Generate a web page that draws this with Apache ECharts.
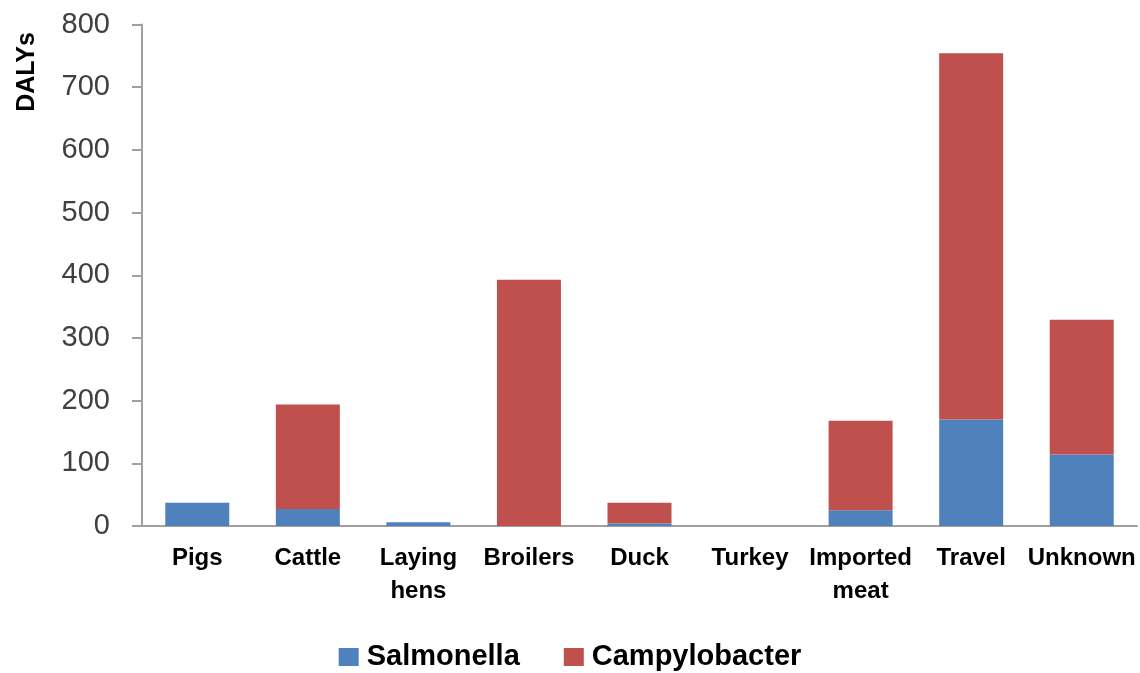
<!DOCTYPE html>
<html>
<head>
<meta charset="utf-8">
<script src="https://cdn.jsdelivr.net/npm/echarts@6/dist/echarts.min.js"></script>
<style>
  html, body { margin: 0; padding: 0; background: #fff; }
  #chart { width: 1140px; height: 673px; }
</style>
</head>
<body>
<div id="chart"></div>
<script>
// Sources of human illness burden (DALYs), split by pathogen
const categories = ['Pigs', 'Cattle', 'Laying\nhens', 'Broilers', 'Duck', 'Turkey', 'Imported\nmeat', 'Travel', 'Unknown'];
const salmonella = [37, 27, 6, 0, 4, 0, 25, 170, 114];
const campylobacter = [0, 167, 0, 393, 33, 0, 143, 584, 215];
const yTicks = { min: 0, max: 800, interval: 100 };

const chart = echarts.init(document.getElementById('chart'), null, { renderer: 'canvas' });

const narrow = '"Liberation Sans Narrow", "Liberation Sans", Arial, sans-serif';

chart.setOption({
  animation: false,
  backgroundColor: '#ffffff',
  grid: { left: 142, right: 3, top: 24.5, bottom: 147, containLabel: false },
  legend: {
    data: ['Salmonella', 'Campylobacter'],
    left: 'center',
    top: 640,
    padding: 0,
    itemWidth: 20,
    itemHeight: 18,
    itemGap: 44,
    icon: 'rect',
    textStyle: { fontFamily: narrow, fontWeight: 'bold', fontSize: 29, lineHeight: 34, color: '#000', padding: [0, 0, 0, 3] }
  },
  graphic: [{
    type: 'text',
    x: 27,
    y: 72,
    rotation: Math.PI / 2,
    style: {
      text: 'DALYs',
      font: 'bold 25px "Liberation Sans", Arial, sans-serif',
      fill: '#000',
      align: 'center',
      verticalAlign: 'middle'
    }
  }],
  xAxis: {
    type: 'category',
    data: categories,
    axisLine: { lineStyle: { color: '#a0a0a0', width: 2 } },
    axisTick: { show: false },
    axisLabel: {
      interval: 0,
      margin: 16,
      fontFamily: narrow,
      fontWeight: 'bold',
      fontSize: 24,
      lineHeight: 33,
      color: '#000'
    }
  },
  yAxis: {
    type: 'value',
    min: yTicks.min,
    max: yTicks.max,
    interval: yTicks.interval,
    axisLine: { show: true, lineStyle: { color: '#a0a0a0', width: 2 } },
    axisTick: { show: true, length: 10, lineStyle: { color: '#a0a0a0', width: 2 } },
    splitLine: { show: false },
    axisLabel: {
      margin: 32,
      fontFamily: '"Liberation Sans", Arial, sans-serif',
      fontSize: 29,
      color: '#404040'
    }
  },
  series: [
    {
      name: 'Salmonella',
      type: 'bar',
      stack: 'total',
      data: salmonella,
      barWidth: 64,
      itemStyle: { color: '#4f81bd' }
    },
    {
      name: 'Campylobacter',
      type: 'bar',
      stack: 'total',
      data: campylobacter,
      barWidth: 64,
      itemStyle: { color: '#c0504d' }
    }
  ]
});
</script>
</body>
</html>
